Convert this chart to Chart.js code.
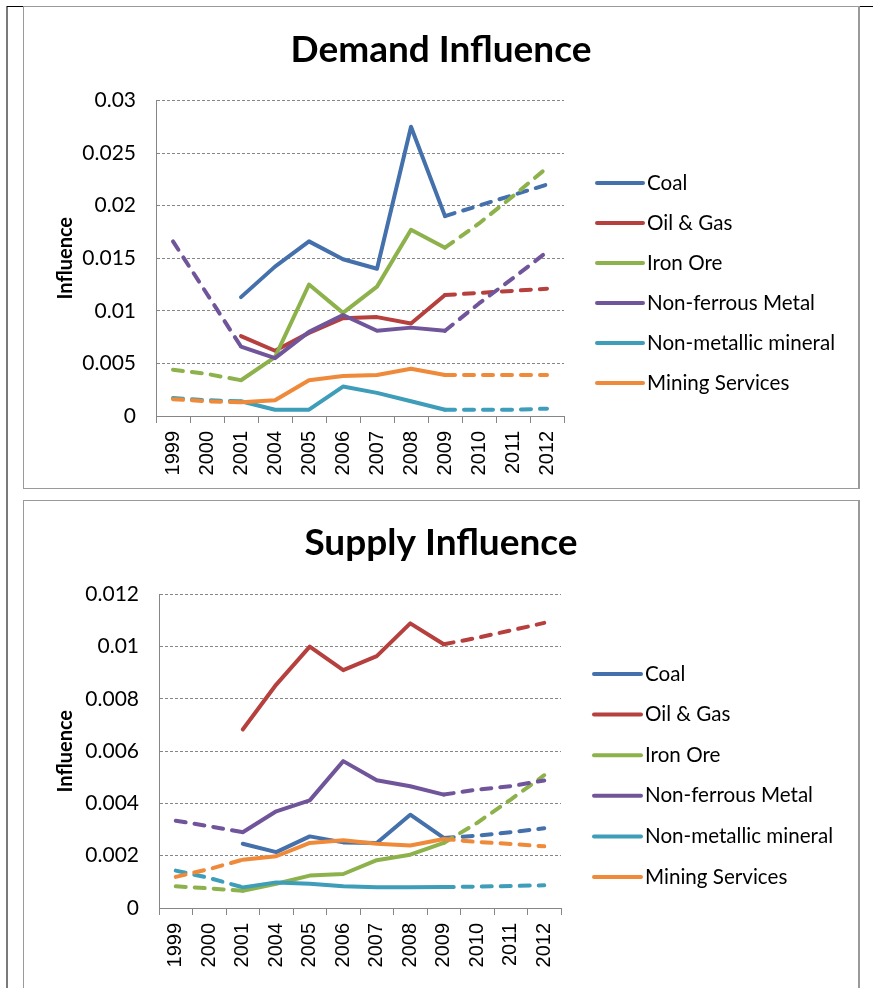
<!DOCTYPE html>
<html>
<head>
<meta charset="utf-8">
<title>Demand and Supply Influence</title>
<script src="https://cdn.jsdelivr.net/npm/chart.js@4.4.1/dist/chart.umd.min.js"></script>
<style>
  body { margin: 0; background: #fff; width: 873px; height: 988px; position: relative; overflow: hidden; }
  .page-line { position: absolute; left: 6px; top: 6px; width: 2px; height: 990px; background: #7a7a7a; }
  .top-line { position: absolute; top: 6px; height: 1px; background: #000; }
  .box { position: absolute; left: 23px; width: 834px; border: 1px solid #9a9a9a; border-right: 2px solid #9a9a9a; }
  canvas { position: absolute; left: 24px; }
</style>
</head>
<body>
<div class="page-line"></div>
<div class="top-line" style="left:7px;width:16px"></div>
<div class="top-line" style="left:859px;width:14px"></div>
<div class="box" style="top:6px;height:481px"></div>
<div class="box" style="top:500px;height:500px"></div>
<canvas id="demandChart" width="834" height="481" style="top:7px"></canvas>
<canvas id="supplyChart" width="834" height="487" style="top:501px"></canvas>
<script>
// Categories and series
const years = ['1999', '2000', '2001', '2004', '2005', '2006', '2007', '2008', '2009', '2010', '2011', '2012'];
const seriesNames = ['Coal', 'Oil & Gas', 'Iron Ore', 'Non-ferrous Metal', 'Non-metallic mineral', 'Mining Services'];
const seriesColors = ['#4470AB', '#B5403D', '#8DB24C', '#71559B', '#3E9DB9', '#EE8A3A'];

// Demand influence (1999-2000 and 2010-2012 are dashed)
const demandCoal = [null, null, 0.0113, 0.0142, 0.0166, 0.0149, 0.0140, 0.0275, 0.0190, 0.0200, 0.0210, 0.0220];
const demandOilGas = [null, null, 0.0076, 0.0062, 0.0079, 0.0093, 0.0094, 0.0088, 0.0115, 0.0117, 0.0119, 0.0121];
const demandIronOre = [0.0044, 0.0040, 0.0034, 0.0056, 0.0125, 0.0098, 0.0123, 0.0177, 0.0160, 0.0183, 0.0209, 0.0236];
const demandNonFerrous = [0.0166, 0.0116, 0.0066, 0.0055, 0.0080, 0.0096, 0.0081, 0.0084, 0.0081, 0.0107, 0.0131, 0.0156];
const demandNonMetallic = [0.0017, 0.0015, 0.0014, 0.0006, 0.0006, 0.0028, 0.0022, 0.0014, 0.0006, 0.0006, 0.0006, 0.0007];
const demandMining = [0.0016, 0.0014, 0.0013, 0.0015, 0.0034, 0.0038, 0.0039, 0.0045, 0.0039, 0.0039, 0.0039, 0.0039];
const demandYTicks = ['0', '0.005', '0.01', '0.015', '0.02', '0.025', '0.03'];

// Supply influence
const supplyCoal = [null, null, 0.00246, 0.00214, 0.00274, 0.00251, 0.00249, 0.00357, 0.00268, 0.00277, 0.00290, 0.00305];
const supplyOilGas = [null, null, 0.00683, 0.00855, 0.01000, 0.00910, 0.00964, 0.01089, 0.01009, 0.01034, 0.01062, 0.01091];
const supplyIronOre = [0.00083, 0.00075, 0.00066, 0.00093, 0.00124, 0.00130, 0.00183, 0.00204, 0.00249, 0.00326, 0.00415, 0.00508];
const supplyNonFerrous = [0.00334, 0.00313, 0.00290, 0.00370, 0.00412, 0.00562, 0.00489, 0.00466, 0.00434, 0.00453, 0.00466, 0.00488];
const supplyNonMetallic = [0.00143, 0.00115, 0.00079, 0.00098, 0.00093, 0.00083, 0.00079, 0.00079, 0.00080, 0.00082, 0.00084, 0.00087];
const supplyMining = [0.00119, 0.00149, 0.00185, 0.00198, 0.00249, 0.00259, 0.00246, 0.00239, 0.00264, 0.00253, 0.00245, 0.00236];
const supplyYTicks = ['0', '0.002', '0.004', '0.006', '0.008', '0.01', '0.012'];

const GRID = '#868686';
const FONT = 'Lato';

// Legend drawn as short line samples beside the plot
const lineLegend = {
    id: 'lineLegend',
    afterDraw(chart, args, opts) {
        const ctx = chart.ctx;
        ctx.save();
        chart.data.datasets.forEach((ds, i) => {
            const y = opts.top + i * opts.gap;
            ctx.strokeStyle = ds.borderColor;
            ctx.lineWidth = 4;
            ctx.lineCap = 'round';
            ctx.beginPath();
            ctx.moveTo(opts.x, y);
            ctx.lineTo(opts.x + opts.len, y);
            ctx.stroke();
            ctx.fillStyle = '#000';
            ctx.font = '20.6px ' + FONT;
            ctx.textBaseline = 'middle';
            ctx.fillText(ds.label, opts.x + opts.len + 4, y);
        });
        ctx.restore();
    }
};

// solid for 2001-2009, dashed for the rest
function dashFor(ctx) {
    return (ctx.p0DataIndex < 2 || ctx.p0DataIndex >= 8) ? [10, 9] : undefined;
}

function makeChart(id, cfg) {
    const datasets = cfg.series.map((values, i) => ({
        label: seriesNames[i],
        data: values,
        borderColor: seriesColors[i],
        backgroundColor: seriesColors[i],
        borderWidth: 4,
        borderCapStyle: 'round',
        borderJoinStyle: 'round',
        pointRadius: 0,
        pointHoverRadius: 0,
        tension: 0,
        spanGaps: false,
        order: cfg.series.length - i,
        segment: { borderDash: dashFor }
    }));

    return new Chart(document.getElementById(id), {
        type: 'line',
        data: { labels: years, datasets: datasets },
        plugins: [lineLegend],
        options: {
            responsive: false,
            animation: false,
            devicePixelRatio: 1,
            layout: { padding: cfg.padding },
            plugins: {
                legend: { display: false },
                tooltip: { enabled: false },
                title: {
                    display: true,
                    text: cfg.title,
                    color: '#000',
                    font: { family: FONT, size: 37, weight: 'bold', lineHeight: 1.2 },
                    padding: cfg.titlePadding
                },
                lineLegend: cfg.legend
            },
            scales: {
                x: {
                    offset: true,
                    afterFit: s => { s.height = 60; },
                    ticks: {
                        color: '#000',
                        font: { family: 'Liberation Sans', size: 20 },
                        minRotation: 90,
                        maxRotation: 90,
                        autoSkip: false,
                        padding: 8
                    },
                    grid: { offset: true, drawOnChartArea: false, drawTicks: true, tickLength: 7, color: GRID },
                    border: { color: GRID, width: 1 }
                },
                y: {
                    min: 0,
                    max: cfg.yMax,
                    afterFit: s => { s.width = cfg.yWidth; },
                    ticks: {
                        stepSize: cfg.yStep,
                        color: '#000',
                        font: { family: FONT, size: 21 },
                        padding: 20,
                        callback: (v, i) => cfg.yTicks[i]
                    },
                    grid: { color: GRID, lineWidth: 1, drawTicks: false },
                    border: { color: GRID, width: 1, dash: [3, 2] },
                    title: {
                        display: true,
                        text: 'Influence',
                        color: '#000',
                        font: { family: FONT, size: 20, weight: 'bold', lineHeight: 1.2 },
                        padding: { top: 30, bottom: 0 }
                    }
                },
                // empty right-hand space where the legend sits
                legendSpace: {
                    type: 'linear',
                    position: 'right',
                    afterFit: s => { s.width = cfg.rightSpace; },
                    ticks: { display: false },
                    grid: { display: false },
                    border: { display: false }
                }
            }
        }
    });
}

makeChart('demandChart', {
    title: 'Demand Influence',
    series: [demandCoal, demandOilGas, demandIronOre, demandNonFerrous, demandNonMetallic, demandMining],
    yMax: 0.03,
    yStep: 0.005,
    yTicks: demandYTicks,
    yWidth: 132,
    rightSpace: 294,
    padding: { left: 0, right: 0, top: 0, bottom: 12 },
    titlePadding: { top: 21, bottom: 28 },
    legend: { x: 573, len: 46, top: 176, gap: 40 }
});

makeChart('supplyChart', {
    title: 'Supply Influence',
    series: [supplyCoal, supplyOilGas, supplyIronOre, supplyNonFerrous, supplyNonMetallic, supplyMining],
    yMax: 0.012,
    yStep: 0.002,
    yTicks: supplyYTicks,
    yWidth: 135,
    rightSpace: 297,
    padding: { left: 0, right: 0, top: 0, bottom: 20 },
    titlePadding: { top: 20, bottom: 29 },
    legend: { x: 570, len: 47, top: 173, gap: 40.6 }
});
</script>
</body>
</html>
